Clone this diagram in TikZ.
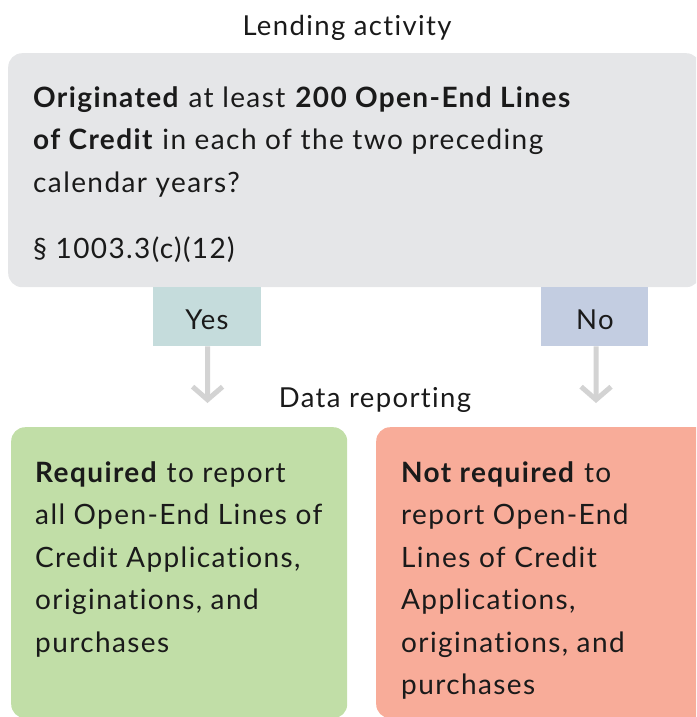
\documentclass[tikz,border=0pt]{standalone}
\usepackage{fontspec}
\setmainfont{Lato}[LetterSpace=5, Ligatures={NoCommon,NoRare}]
\usetikzlibrary{arrows.meta}
\definecolor{qgray}{HTML}{E5E6E8}
\definecolor{yesc}{HTML}{C5DCDC}
\definecolor{noc}{HTML}{C3CDE1}
\definecolor{greenc}{HTML}{C1DEA7}
\definecolor{redc}{HTML}{F8AC99}
\definecolor{arrc}{HTML}{D3D3D3}
\definecolor{txt}{HTML}{1A1A1A}
\tikzset{
  panel/.style={rounded corners=14pt, inner sep=0pt, anchor=north west},
  tag/.style={inner sep=0pt, anchor=north west, text=txt},
  title/.style={inner sep=0pt, anchor=base, text=txt, font=\fontsize{27.5}{32}\selectfont},
  body/.style={inner sep=0pt, anchor=base west, align=left, text=txt, font=\fontsize{28}{42.5}\selectfont},
  flow/.style={draw=arrc, line width=5pt, -{Straight Barb[length=13pt,width=30pt,line width=5pt]}},
}
\begin{document}
\begin{tikzpicture}[x=1pt,y=-1pt]
\useasboundingbox (0,0) rectangle (696,717);
\clip (0,0) rectangle (696,717);
% title
\node[title] (t1) at (347,36) {Lending activity};
% question box
\node[panel, fill=qgray, minimum width=692pt, minimum height=234pt] (q) at (8,53) {};
\node[body] (qt) at (33,192) {\textbf{Originated} at least \textbf{200 Open-End Lines}\\\textbf{of Credit} in each of the two preceding\\calendar years?};
\node[body] (qs) at (33,258) {§ 1003.3(c)(12)};
% answer tags
\node[tag, fill=yesc, minimum width=108pt, minimum height=59pt] (yes) at (153,287) {};
\node[title] (yest) at (207,329) {Yes};
\node[tag, fill=noc, minimum width=107pt, minimum height=59pt] (no) at (541,287) {};
\node[title] (not) at (595,329) {No};
% arrows
\coordinate (ya) at (207.5,403);
\coordinate (na) at (596,403);
\draw[flow] (yes.south) ++(0.5,0) coordinate (ys) -- (ya);
\draw[flow] (no.south) ++(1.5,0) coordinate (ns) -- (na);
% data reporting
\node[title] (t2) at (375,407) {Data reporting};
% result boxes
\node[panel, fill=greenc, minimum width=336pt, minimum height=291pt] (g) at (11,427) {};
\node[panel, fill=redc, minimum width=340pt, minimum height=291pt] (r) at (376,427) {};
\node[body] (gt) at (35,652) {\textbf{Required} to report\\all Open-End Lines of\\Credit Applications,\\originations, and\\purchases};
\node[body] (rt) at (401,694.5) {\textbf{Not required} to\\report Open-End\\Lines of Credit\\Applications,\\originations, and\\purchases};
\end{tikzpicture}
\end{document}
